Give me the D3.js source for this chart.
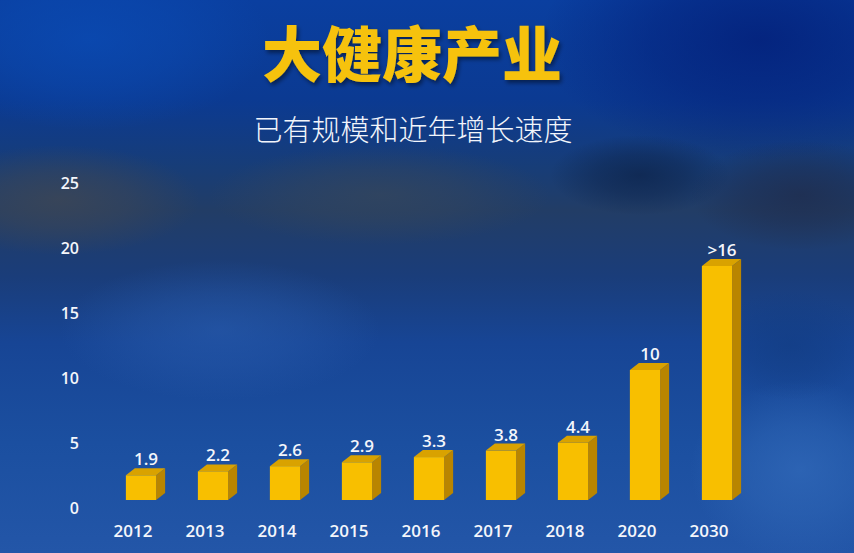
<!DOCTYPE html>
<html><head><meta charset="utf-8">
<script src="https://cdn.jsdelivr.net/npm/d3@7"></script>
<style>html,body{margin:0;padding:0;background:#123f8f;}svg{display:block}</style>
</head><body>
<svg id="c" width="854" height="553"></svg>
<script>
const categories = ["2012","2013","2014","2015","2016","2017","2018","2020","2030"];
const values = [1.9, 2.2, 2.6, 2.9, 3.3, 3.8, 4.4, 10, 18];
const valueLabels = ["1.9","2.2","2.6","2.9","3.3","3.8","4.4","10",">16"];
const yTicks = [0, 5, 10, 15, 20, 25];
const title = "大健康产业";
const subtitle = "已有规模和近年增长速度";

const W = 854, H = 553;
const svg = d3.select("#c");
const defs = svg.append("defs");

// background
const bg = defs.append("linearGradient").attr("id","bg").attr("x1",0).attr("y1",0).attr("x2",0).attr("y2",1);
[[0,"#0a3fa0"],[0.18,"#0b3a92"],[0.3,"#173d78"],[0.38,"#223d66"],[0.5,"#1a3d7a"],[0.62,"#174595"],[0.8,"#1b4fa0"],[1,"#2356a8"]]
  .forEach(([o,c])=>bg.append("stop").attr("offset",o).attr("stop-color",c));
svg.append("rect").attr("width",W).attr("height",H).attr("fill","url(#bg)");

const blobData = [
  [760,40,220,120,"#03207a",0.85],
  [90,40,180,90,"#0a4cb6",0.7],
  [60,200,140,55,"#3c4656",0.85],
  [380,195,170,50,"#35465c",0.75],
  [640,175,90,40,"#0c2248",0.7],
  [800,195,110,55,"#1f2c4c",0.75],
  [220,330,160,70,"#2a5eb0",0.55],
  [800,470,110,90,"#3169b9",0.75],
  [790,345,80,55,"#113b80",0.6]
];
blobData.forEach((b,i)=>{
  const g = defs.append("radialGradient").attr("id","b"+i);
  g.append("stop").attr("offset",0).attr("stop-color",b[4]).attr("stop-opacity",b[5]);
  g.append("stop").attr("offset",0.5).attr("stop-color",b[4]).attr("stop-opacity",b[5]*0.6);
  g.append("stop").attr("offset",1).attr("stop-color",b[4]).attr("stop-opacity",0);
  svg.append("ellipse").attr("cx",b[0]).attr("cy",b[1]).attr("rx",b[2]).attr("ry",b[3]).attr("fill",`url(#b${i})`);
});

// title
defs.append("filter").attr("id","tshadow").append("feDropShadow")
  .attr("dx",2).attr("dy",3).attr("stdDeviation",2).attr("flood-color","#000").attr("flood-opacity",0.45);
svg.append("text").attr("x",412).attr("y",50).attr("text-anchor","middle").attr("dominant-baseline","central")
  .attr("font-family","'Noto Sans CJK SC',sans-serif").attr("font-weight",900).attr("font-size",60)
  .attr("fill","#f6c20a").attr("filter","url(#tshadow)").text(title);
svg.append("text").attr("x",413).attr("y",128).attr("text-anchor","middle").attr("dominant-baseline","central")
  .attr("font-family","'Noto Sans CJK SC',sans-serif").attr("font-weight",300).attr("font-size",29)
  .attr("fill","#f2f5fb").text(subtitle);

// scales
const x = d3.scaleBand().domain(categories).range([105,753]).paddingInner(0.58).paddingOuter(0.29);
const y = d3.scaleLinear().domain([0,25]).range([500,175]);
const numFont = "'Open Sans','Noto Sans',sans-serif";

// y axis labels
const yAxis = d3.axisLeft(y).tickValues(yTicks).tickSize(0).tickPadding(0);
const ya = svg.append("g").attr("transform","translate(79,8)").call(yAxis);
ya.select(".domain").remove();
ya.selectAll("text").attr("font-family",numFont).attr("font-size",16).attr("font-weight",600).attr("fill","#f4f6fb");

// x axis labels
const xAxis = d3.axisBottom(x).tickSize(0).tickPadding(0);
const xa = svg.append("g").attr("transform","translate(-8,524)").call(xAxis);
xa.select(".domain").remove();
xa.selectAll("text").attr("font-family",numFont).attr("font-size",17).attr("font-weight",600).attr("fill","#f4f6fb").attr("dy","0.75em");

// bars (3D)
const dx = 9, dy = 7;
const bw = x.bandwidth();
const bars = svg.append("g").selectAll("g").data(categories.map((c,i)=>({c, v:values[i], l:valueLabels[i]}))).join("g");
bars.append("path").attr("fill","#b98500").attr("d", d => {
  const x0 = x(d.c), x1 = x0 + bw, yt = y(d.v), yb = y(0);
  return `M${x1},${yt} L${x1+dx},${yt-dy} L${x1+dx},${yb-dy} L${x1},${yb} Z`;
});
bars.append("path").attr("fill","#d9a200").attr("d", d => {
  const x0 = x(d.c), x1 = x0 + bw, yt = y(d.v);
  return `M${x0},${yt} L${x0+dx},${yt-dy} L${x1+dx},${yt-dy} L${x1},${yt} Z`;
});
bars.append("rect").attr("fill","#f8bf00")
  .attr("x", d => x(d.c)).attr("y", d => y(d.v)).attr("width", bw).attr("height", d => y(0) - y(d.v));
bars.append("text").attr("x", d => x(d.c) + bw/2 + 5).attr("y", d => y(d.v) - dy - 3)
  .attr("text-anchor","middle").attr("font-family",numFont).attr("font-size",17).attr("font-weight",600)
  .attr("fill","#f4f6fb").text(d => d.l);
</script>
</body></html>
